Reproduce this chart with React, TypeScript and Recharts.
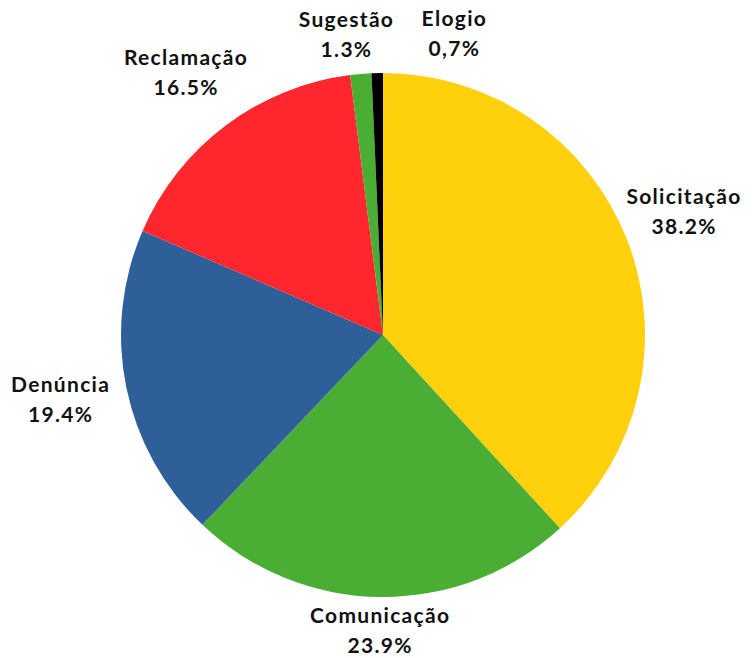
import { PieChart, Pie, Cell } from "recharts";

const categories = ["Solicitação", "Comunicação", "Denúncia", "Reclamação", "Sugestão", "Elogio"];
const shares = [38.2, 23.9, 19.4, 16.5, 1.3, 0.7];
const shareLabels = ["38.2%", "23.9%", "19.4%", "16.5%", "1.3%", "0,7%"];
const colors = ["#FFD00B", "#4AAD34", "#2F5F98", "#FF262D", "#4AAD34", "#000000"];

// label distance from center and nudges (small slices overlap otherwise)
const labelRadius = [323, 296, 329, 328, 301, 301];
const labelNudgeX = [0, 0, 0, 0, -11, 78];
const labelNudgeY = [-6, 0, -1, 0, 0, 0];

const data = categories.map((name, i) => ({ name, value: shares[i], label: shareLabels[i] }));

const RADIAN = Math.PI / 180;

function renderLabel(props: any) {
  const { cx, cy, midAngle, index } = props;
  const r = labelRadius[index];
  const x = cx + r * Math.cos(-midAngle * RADIAN) + labelNudgeX[index];
  const y = cy + r * Math.sin(-midAngle * RADIAN) + labelNudgeY[index];
  return (
    <text
      x={x}
      y={y}
      textAnchor="middle"
      fill="#111"
      style={{ fontFamily: "Lato, sans-serif", fontWeight: 700, fontSize: 21, letterSpacing: 1.3 }}
    >
      <tspan x={x} dy={-8}>{data[index].name}</tspan>
      <tspan x={x} dy={30}>{data[index].label}</tspan>
    </text>
  );
}

export default function App() {
  return (
    <div style={{ position: "absolute", left: 0, top: 0, width: 756, height: 658, background: "#fff" }}>
      <PieChart width={756} height={658}>
        <Pie
          data={data}
          dataKey="value"
          nameKey="name"
          cx={378}
          cy={330}
          outerRadius={262}
          startAngle={90}
          endAngle={-270}
          stroke="none"
          label={renderLabel}
          labelLine={false}
          isAnimationActive={false}
        >
          {data.map((d, i) => (
            <Cell key={d.name} fill={colors[i]} />
          ))}
        </Pie>
      </PieChart>
    </div>
  );
}
